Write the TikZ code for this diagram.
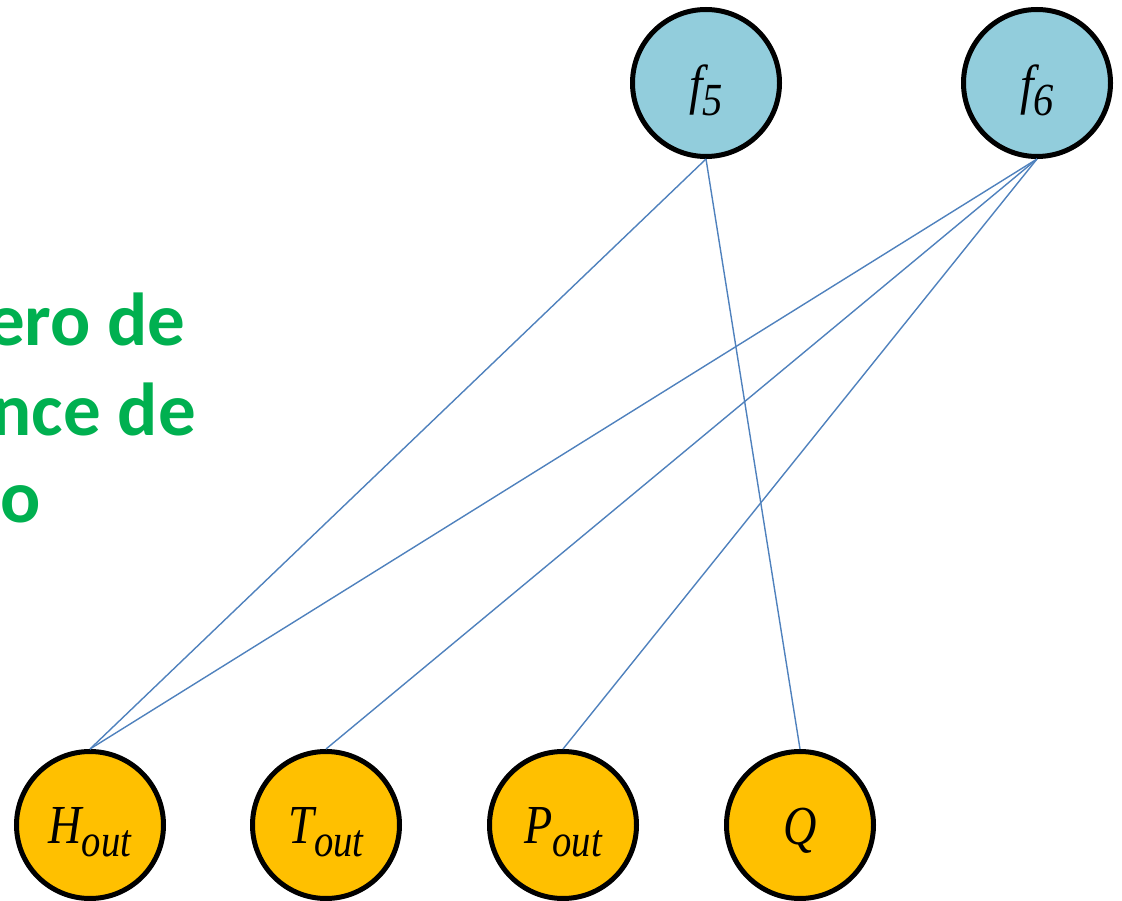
\documentclass[tikz,border=0pt]{standalone}
\usepackage{fontspec}
\setmainfont{Liberation Serif}
\newfontfamily\greenfont{Carlito}
\definecolor{lineblue}{HTML}{4F81BD}
\definecolor{topfill}{HTML}{92CDDC}
\definecolor{botfill}{HTML}{FFC000}
\definecolor{txtgreen}{HTML}{00B050}
% #1 main, #2 subscript, #3 horizontal scale, #4 subscript drop, #5 baseline drop
\newcommand{\varlab}[5]{\raisebox{#5}[0pt][0pt]{\scalebox{#3}[1]{\fontsize{55}{55}\selectfont\itshape #1\raisebox{#4}{\fontsize{46}{46}\selectfont #2}}}}
\tikzset{
  varnode/.style={circle, draw=black, line width=5pt, minimum size=147pt, inner sep=0pt},
  topnode/.style={varnode, fill=topfill},
  botnode/.style={varnode, fill=botfill},
  edge/.style={draw=lineblue, line width=1.4pt},
  greentxt/.style={anchor=base east, inner sep=0pt, text=txtgreen, font=\greenfont\bfseries\fontsize{75}{75}\selectfont}
}
\begin{document}
\begin{tikzpicture}[x=1pt,y=-1pt]
\useasboundingbox (0,0) rectangle (1122,901);
\node[greentxt] (g1) at (186,345) {ero de};
\node[greentxt] (g2) at (196,435) {nce de};
\node[greentxt] (g3) at (41,522) {o};
\node[topnode] (f5) at (706,83) {\varlab{f}{5}{0.88}{-12pt}{-21pt}};
\node[topnode] (f6) at (1037,83) {\varlab{f}{6}{0.88}{-12pt}{-21pt}};
\node[botnode] (H) at (90,825) {\varlab{H}{out}{0.84}{-13pt}{-18pt}};
\node[botnode] (T) at (326,825) {\varlab{T}{out}{0.84}{-13pt}{-18pt}};
\node[botnode] (P) at (563,825) {\varlab{P}{out}{0.84}{-13pt}{-18pt}};
\node[botnode] (Q) at (800,825) {\raisebox{-19pt}[0pt][0pt]{\scalebox{0.84}[1]{\fontsize{55}{55}\selectfont\itshape Q}}};
\draw[edge] (f5.south) -- (H.north);
\draw[edge] (f5.south) -- (Q.north);
\draw[edge] (f6.south) -- (H.north);
\draw[edge] (f6.south) -- (T.north);
\draw[edge] (f6.south) -- (P.north);
\end{tikzpicture}
\end{document}
